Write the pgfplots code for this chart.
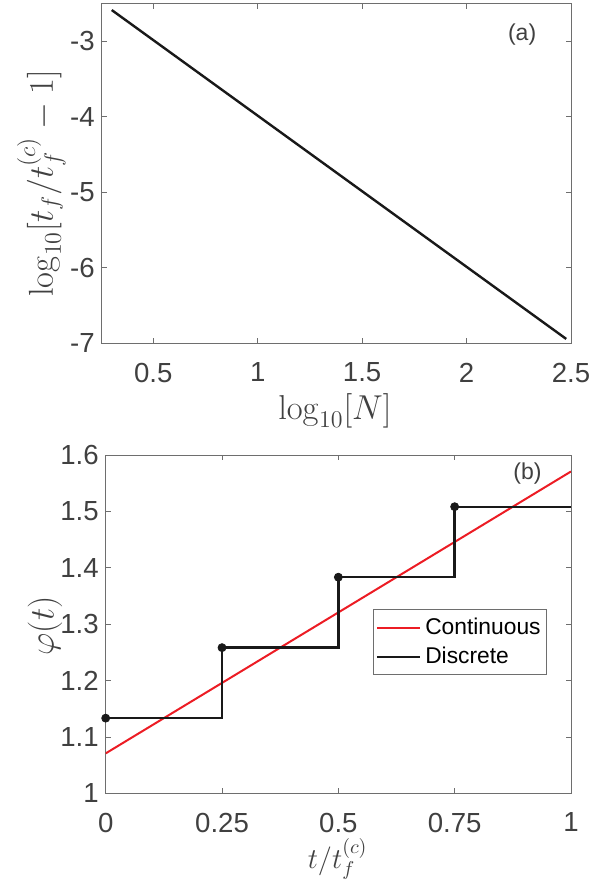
\documentclass[border=0pt]{standalone}
\usepackage{pgfplots}
\pgfplotsset{compat=1.18}
\usepackage[no-math]{fontspec}
\setmainfont{Liberation Sans}

\definecolor{axgray}{RGB}{110,110,110}
\definecolor{ticktext}{RGB}{64,64,64}
\definecolor{contred}{RGB}{236,28,36}

\pgfplotsset{
  matlabstyle/.style={
    scale only axis,
    axis line style={axgray, line width=0.4pt},
    tick style={axgray, line width=0.4pt},
    tick align=inside,
    major tick length=2.6pt,
    /pgf/number format/assume math mode=true,
    tick label style={font=\fontsize{13.8}{16}\selectfont, text=ticktext},
    xticklabel style={yshift=-6.2pt},
    yticklabel style={xshift=0pt},
    label style={font=\fontsize{16.5}{20}\selectfont, text=ticktext},
  }
}

\begin{document}
\begin{tikzpicture}
\path[use as bounding box] (-50.85pt,1.65pt) rectangle (255.15pt,-438.35pt);

% (a)
\begin{axis}[
  matlabstyle,
  at={(0pt,0pt)}, anchor=north west,
  width=234.65pt, height=170pt,
  xmin=0.253, xmax=2.5,
  ymin=-7, ymax=-2.5,
  xtick={0.5,1,1.5,2,2.5},
  ytick={-7,-6,-5,-4,-3},
  xlabel={$\log_{10}[N]$},
  ylabel={$\log_{10}[t_f/t_f^{(c)}-1]$},
  xlabel style={at={(axis description cs:0.497,-0.1985)}, anchor=center},
  ylabel style={at={(axis description cs:-0.1287,0.47)}, anchor=center},
]
\addplot[black!90, line width=1.2pt] coordinates {(0.30103,-2.589) (2.4771,-6.942)};
\node[font=\fontsize{11.5}{13}\selectfont, text=ticktext] at (axis cs:2.266,-2.92) {(a)};
\end{axis}

% (b)
\begin{axis}[
  matlabstyle,
  at={(2pt,-225.85pt)}, anchor=north west,
  width=232.65pt, height=169.15pt,
  xmin=0, xmax=1,
  ymin=1, ymax=1.6,
  xtick={0,0.25,0.5,0.75,1},
  xticklabels={0,0.25,0.5,0.75,1},
  ytick={1,1.1,1.2,1.3,1.4,1.5,1.6},
  xlabel={$t/t_f^{(c)}$},
  ylabel={$\varphi(t)$},
  xlabel style={at={(axis description cs:0.4985,-0.193)}, anchor=center,
    font=\fontsize{14}{17}\selectfont},
  ylabel style={at={(axis description cs:-0.1305,0.495)}, anchor=center},
  legend style={at={(0.5755,0.5435)}, anchor=north west,
    draw=axgray, line width=0.4pt,
    font=\fontsize{11.4}{13}\selectfont,
    inner xsep=1pt, inner ysep=2pt, row sep=1pt,
    cells={anchor=west}},
  legend image code/.code={\draw[#1] (0pt,0pt) -- (21.5pt,0pt);},
]
\addplot[contred, line width=1pt] coordinates {(0,1.0708) (1,1.5708)};
\addlegendentry{Continuous}
\addplot[black!90, line width=1.2pt, const plot] coordinates {
  (0,1.1333) (0.25,1.2583) (0.5,1.3833) (0.75,1.5083) (1,1.5083)};
\addlegendentry{Discrete}
\addplot[black!90, only marks, mark=*, mark size=2pt, forget plot] coordinates {
  (0,1.1333) (0.25,1.2583) (0.5,1.3833) (0.75,1.5083)};
\node[font=\fontsize{11.5}{13}\selectfont, text=ticktext] at (axis cs:0.9065,1.567) {(b)};
\end{axis}
\end{tikzpicture}
\end{document}
